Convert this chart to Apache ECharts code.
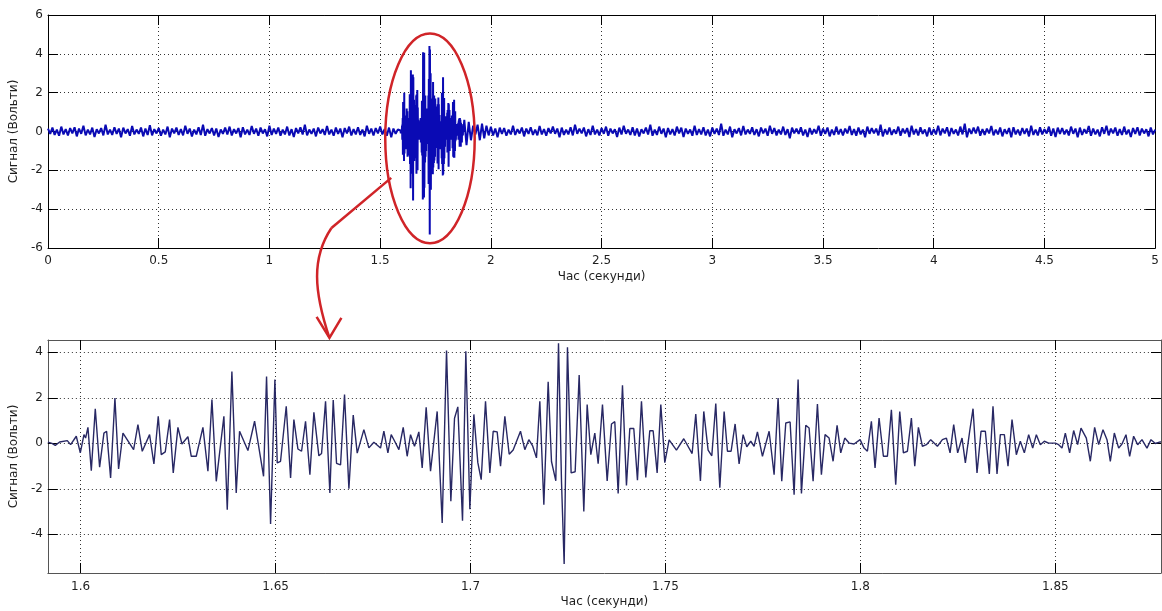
<!DOCTYPE html>
<html><head><meta charset="utf-8">
<script src="https://cdn.jsdelivr.net/npm/echarts@6/dist/echarts.min.js"></script>
<style>html,body{margin:0;padding:0;background:#fff;overflow:hidden}#c{width:1162px;height:611px;}</style>
</head><body><div id="c"></div>
<script>
// ---------- data ----------
const xTitle = 'Час (секунди)';
const yTitle = 'Сигнал (Вольти)';

const noiseStep = 0.01;
const noiseBeforeStart = 0;
const noiseBefore = [
0.15,-0.12,0.2,-0.18,0.1,-0.22,0.25,-0.15,0.12,-0.2,0.18,-0.1,0.22,-0.25,0.15,-0.12,0.3,-0.2,0.1,-0.15,
0.2,-0.28,0.12,-0.1,0.18,-0.2,0.35,-0.15,0.1,-0.18,0.22,-0.12,0.15,-0.3,0.2,-0.1,0.12,-0.22,0.28,-0.15,
0.1,-0.12,0.2,-0.25,0.15,-0.18,0.32,-0.2,0.12,-0.1,0.18,-0.22,0.1,-0.15,0.25,-0.3,0.15,-0.1,0.2,-0.18,
0.12,-0.2,0.3,-0.12,0.15,-0.25,0.1,-0.15,0.22,-0.18,0.35,-0.22,0.12,-0.1,0.18,-0.2,0.15,-0.28,0.1,-0.12,
0.2,-0.15,0.25,-0.2,0.12,-0.1,0.18,-0.3,0.22,-0.15,0.1,-0.18,0.28,-0.12,0.15,-0.22,0.2,-0.1,0.12,-0.25,
0.3,-0.18,0.15,-0.12,0.2,-0.22,0.1,-0.15,0.25,-0.2,0.12,-0.28,0.18,-0.1,0.22,-0.15,0.35,-0.2,0.1,-0.12,
0.15,-0.25,0.2,-0.1,0.12,-0.18,0.28,-0.15,0.1,-0.22,0.2,-0.12,0.15,-0.3,0.18,-0.1,0.25,-0.2,0.12,-0.15,
0.22,-0.18,0.1,-0.25,0.3,-0.12,0.15,-0.2,0.18,-0.1,0.25,-0.15,0.12,-0.22,0.2,-0.3,0.15,-0.12,0.1
];
const noiseAfterStart = 1.88;
const noiseAfter = [
0.6,-0.7,0.5,-0.45,0.3,-0.15,0.35,-0.45,0.4,-0.35,0.3,-0.2,
0.25,-0.2,0.15,-0.3,0.2,-0.12,0.18,-0.22,0.1,-0.15,0.3,-0.18,0.12,-0.1,0.2,-0.25,0.15,-0.12,0.22,-0.18,
0.1,-0.2,0.28,-0.15,0.12,-0.22,0.18,-0.1,0.25,-0.12,0.15,-0.3,0.2,-0.18,0.1,-0.15,0.22,-0.2,0.35,-0.12,
0.15,-0.1,0.2,-0.25,0.12,-0.18,0.3,-0.15,0.1,-0.2,0.18,-0.12,0.25,-0.22,0.15,-0.1,0.12,-0.28,0.2,-0.15,
0.3,-0.12,0.1,-0.18,0.22,-0.2,0.15,-0.25,0.12,-0.1,0.2,-0.15,0.35,-0.22,0.1,-0.18,0.25,-0.12,0.15,-0.3,
0.18,-0.15,0.12,-0.2,0.25,-0.1,0.2,-0.28,0.15,-0.12,0.1,-0.22,0.3,-0.18,0.12,-0.15,0.22,-0.2,0.1,-0.25,
0.2,-0.12,0.15,-0.18,0.4,-0.22,0.1,-0.15,0.25,-0.3,0.12,-0.1,0.18,-0.2,0.28,-0.15,0.1,-0.12,0.22,-0.18,
0.12,-0.25,0.2,-0.1,0.15,-0.22,0.3,-0.12,0.18,-0.2,0.1,-0.15,0.25,-0.18,0.12,-0.35,0.2,-0.1,0.15,-0.12,
0.22,-0.2,0.1,-0.28,0.18,-0.15,0.12,-0.1,0.3,-0.22,0.15,-0.12,0.2,-0.25,0.1,-0.18,0.25,-0.15,0.12,-0.2,
0.15,-0.1,0.28,-0.18,0.12,-0.22,0.2,-0.15,0.1,-0.3,0.25,-0.12,0.18,-0.1,0.15,-0.2,0.35,-0.25,0.12,-0.15,
0.2,-0.18,0.1,-0.12,0.25,-0.22,0.15,-0.1,0.18,-0.28,0.3,-0.15,0.12,-0.2,0.22,-0.12,0.1,-0.25,0.2,-0.18,
0.12,-0.15,0.3,-0.2,0.15,-0.1,0.22,-0.25,0.18,-0.12,0.1,-0.2,0.25,-0.15,0.4,-0.3,0.15,-0.12,0.2,-0.1,
0.25,-0.22,0.12,-0.18,0.15,-0.1,0.28,-0.2,0.1,-0.15,0.2,-0.25,0.12,-0.12,0.18,-0.3,0.22,-0.15,0.1,-0.2,
0.18,-0.12,0.15,-0.25,0.3,-0.18,0.1,-0.2,0.22,-0.15,0.12,-0.1,0.25,-0.22,0.15,-0.28,0.2,-0.12,0.18,-0.15,
0.1,-0.2,0.25,-0.12,0.15,-0.3,0.2,-0.18,0.12,-0.1,0.28,-0.22,0.15,-0.15,0.1,-0.25,0.22,-0.12,0.3,-0.2,
0.15,-0.1,0.2,-0.22,0.12,-0.18,0.25,-0.15,0.1,-0.28,0.18,-0.12,0.22,-0.2,0.15,-0.1,0.12,-0.25,0.2,-0.15,
0.1
];

const zoomTime = [
1.5916,1.59265,1.5935,1.59462,1.59658,1.59744,1.59889,1.59992,1.60086,1.60128,
1.60188,1.60274,1.60376,1.60487,1.60598,1.60667,1.60769,1.6088,1.60974,1.61086,
1.61359,1.6147,1.61581,1.61769,1.6188,1.61991,1.62068,1.62171,1.62282,1.62376,
1.62496,1.62599,1.62752,1.62838,1.62966,1.63137,1.6318,1.63265,1.63368,1.63479,
1.63675,1.63761,1.6388,1.63991,1.64077,1.64291,1.64462,1.64692,1.64769,1.64872,
1.64983,1.65043,1.65128,1.65274,1.65385,1.6547,1.65573,1.65667,1.65769,1.65881,
1.65983,1.66111,1.6618,1.66282,1.66393,1.66479,1.66564,1.66667,1.66769,1.66881,
1.66992,1.67094,1.67265,1.67393,1.67522,1.67692,1.67778,1.67881,1.67966,1.68052,
1.68163,1.68274,1.68376,1.68462,1.68564,1.68675,1.68761,1.68863,1.68975,1.69145,
1.69274,1.69385,1.69496,1.6959,1.69675,1.69795,1.6988,1.69983,1.70086,1.70188,
1.70274,1.70385,1.70496,1.70582,1.70684,1.7077,1.70881,1.70992,1.71094,1.71282,
1.71393,1.71496,1.7159,1.71692,1.71778,1.71881,1.71992,1.72077,1.72188,1.72257,
1.72334,1.72402,1.72487,1.72581,1.72684,1.72787,1.72906,1.72992,1.73086,1.73188,
1.73274,1.73385,1.73505,1.73616,1.73701,1.73787,1.73898,1.74,1.74086,1.74188,
1.74282,1.74385,1.74496,1.74598,1.74684,1.74787,1.74881,1.74983,1.75094,1.75282,
1.7547,1.75684,1.75778,1.75897,1.75983,1.76094,1.76189,1.76291,1.76394,1.76505,
1.7659,1.76684,1.76787,1.76889,1.76992,1.77086,1.77188,1.77274,1.77359,1.77488,
1.77659,1.77787,1.77889,1.77983,1.78086,1.78197,1.783,1.78402,1.78488,1.78599,
1.78684,1.78787,1.78898,1.79,1.79094,1.79197,1.793,1.79402,1.79496,1.79599,
1.7971,1.79838,1.79992,1.80094,1.8018,1.80282,1.80376,1.80479,1.8059,1.80693,
1.80795,1.80906,1.81009,1.81103,1.81206,1.81308,1.81394,1.81488,1.8159,1.81693,
1.81804,1.81975,1.82103,1.82206,1.823,1.82393,1.82495,1.82607,1.82692,1.82803,
1.82889,1.82991,1.83094,1.83205,1.83307,1.83401,1.83504,1.83589,1.83692,1.83786,
1.83889,1.84,1.84102,1.84205,1.84316,1.84419,1.84513,1.84615,1.84718,1.84829,
1.85,1.85085,1.85171,1.85256,1.85367,1.8547,1.85572,1.85658,1.85795,1.85897,
1.86008,1.86111,1.86222,1.86325,1.8641,1.86513,1.86624,1.86709,1.86812,1.86906,
1.87008,1.87111,1.87222,1.8735,1.87453,1.87564,1.87692,1.8771
];
const zoomSignal = [
0.05,0.0,-0.09,0.06,0.12,-0.06,0.31,-0.42,0.38,0.23,
0.70,-1.20,1.52,-1.05,0.45,0.53,-1.52,1.99,-1.13,0.45,
-0.28,0.82,-0.35,0.38,-0.91,1.19,-0.50,-0.38,1.04,-1.30,
0.70,-0.03,0.29,-0.57,-0.57,0.70,0.75,-1.23,1.92,-1.67,
1.19,-2.92,3.16,-2.18,0.53,-0.32,0.97,-1.45,2.94,-3.55,
2.80,-0.86,-0.79,1.63,-1.52,1.04,-0.25,-0.35,0.97,-1.38,
1.36,-0.55,-0.45,1.85,-2.18,1.90,-0.88,-0.95,2.14,-2.00,
1.24,-0.43,0.60,-0.20,0.05,-0.21,0.53,-0.42,0.38,0.10,
-0.28,0.70,-0.57,0.38,-0.13,0.50,-1.08,1.58,-1.23,1.40,
-3.50,4.08,-2.55,1.10,1.60,-3.40,4.05,-2.90,1.27,-0.85,
-1.60,1.85,-1.30,0.53,0.50,-1.01,1.19,-0.48,-0.29,0.53,
-0.28,0.16,-0.10,-0.64,1.85,-2.70,2.70,-0.80,-1.65,4.40,
-1.70,-5.30,4.22,-1.30,-1.25,3.00,-3.00,1.70,-0.50,0.45,
-0.90,1.70,-1.65,0.85,0.95,-2.20,2.55,-1.85,0.65,0.65,
-1.62,1.85,-1.50,0.55,0.55,-1.30,1.70,-0.85,0.15,-0.30,
0.20,-0.45,1.29,-1.65,1.40,-0.30,-0.55,1.75,-1.95,1.40,
-0.35,-0.35,0.85,-0.91,0.38,-0.15,0.09,-0.13,0.50,-0.57,
0.53,-1.38,1.99,-1.67,0.89,0.94,-2.26,2.80,-2.20,0.79,
0.67,-1.67,1.73,-1.38,0.38,0.23,-0.79,0.79,-0.42,0.23,
0.01,-0.03,0.16,-0.21,-0.35,0.97,-1.08,1.11,-0.57,-0.57,
1.47,-1.82,1.40,-0.42,-0.35,1.11,-1.01,0.70,-0.13,-0.06,
0.16,-0.13,0.16,0.23,-0.42,0.82,-0.42,0.23,-0.86,0.53,
1.52,-1.30,0.53,0.53,-1.35,1.63,-1.35,0.38,0.38,-1.01,
1.04,-0.50,0.09,-0.42,0.38,-0.21,0.38,-0.06,0.09,0.01,
0.01,-0.06,-0.21,0.45,-0.42,0.56,-0.06,0.67,0.23,-0.79,
0.70,-0.06,0.60,0.16,-0.79,0.45,-0.21,-0.03,0.38,-0.57,
0.31,-0.06,0.16,-0.21,0.16,-0.01,0.06,0.05
];

const topXRange = [0, 5];
const topYRange = [-6, 6];
const zoomXRange = [1.5916, 1.8771];
const zoomYRange = [-5.7, 4.54];
const zoomXTicks = [1.6, 1.65, 1.7, 1.75, 1.8, 1.85];
const zoomYTicks = [-4, -2, 0, 2, 4];

// ---------- build ----------
const topData = []
  .concat(noiseBefore.map((v, i) => [+(noiseBeforeStart + i * noiseStep).toFixed(4), v]))
  .concat(zoomTime.map((t, i) => [t, zoomSignal[i]]))
  .concat(noiseAfter.map((v, i) => [+(noiseAfterStart + i * noiseStep).toFixed(4), v]));
const zoomData = zoomTime.map((t, i) => [t, zoomSignal[i]]);

const FONT = "'DejaVu Sans', 'Liberation Sans', Arial, sans-serif";
const lbl = (size, extra) => Object.assign({color: '#1e1e1e', fontFamily: FONT, fontSize: size}, extra || {});
const gridLine = {show: true, lineStyle: {color: '#333', width: 1, type: [1, 3]}};

function mainX(gi, range, extra, frame) {
  return Object.assign({
    type: 'value', gridIndex: gi, position: 'bottom', min: range[0], max: range[1],
    axisLine: {show: true, onZero: false, lineStyle: {color: frame, width: 1}},
    axisTick: {show: true, inside: true, length: 10, lineStyle: {color: frame}},
    splitLine: gridLine,
    nameLocation: 'middle', name: xTitle,
    nameTextStyle: lbl(12)
  }, extra);
}
function mainY(gi, range, extra, frame) {
  return Object.assign({
    type: 'value', gridIndex: gi, position: 'left', min: range[0], max: range[1],
    axisLine: {show: true, onZero: false, lineStyle: {color: frame, width: 1}},
    axisTick: {show: true, inside: true, length: 10, lineStyle: {color: frame}},
    splitLine: gridLine,
    nameLocation: 'middle', name: yTitle, nameGap: 26,
    nameTextStyle: lbl(12)
  }, extra);
}
function twinX(gi, range, extra, frame) {
  return Object.assign({
    type: 'value', gridIndex: gi, position: 'top', min: range[0], max: range[1],
    axisLine: {show: true, onZero: false, lineStyle: {color: frame, width: 1}},
    axisTick: {show: true, inside: true, length: 10, lineStyle: {color: frame}},
    axisLabel: {show: false}, splitLine: {show: false}
  }, extra);
}
function twinY(gi, range, extra, frame) {
  return Object.assign({
    type: 'value', gridIndex: gi, position: 'right', min: range[0], max: range[1],
    axisLine: {show: true, onZero: false, lineStyle: {color: frame, width: 1}},
    axisTick: {show: true, inside: true, length: 10, lineStyle: {color: frame}},
    axisLabel: {show: false}, splitLine: {show: false}
  }, extra);
}

const chart = echarts.init(document.getElementById('c'), null, {renderer: 'canvas'});
const option = {
  animation: false,
  backgroundColor: '#ffffff',
  grid: [
    {left: 48, top: 15, width: 1113, height: 233, containLabel: false},
    {left: 47, top: 340, width: 1114, height: 233, containLabel: false}
  ],
  xAxis: [
    mainX(0, topXRange, {interval: 0.5, nameGap: 23,
      axisLabel: lbl(12, {margin: 7, showMinLabel: true, showMaxLabel: true})}, '#000'),
    twinX(0, topXRange, {interval: 0.5}, '#000'),
    mainX(1, zoomXRange, {nameGap: 23,
      axisLabel: lbl(12, {margin: 8, customValues: zoomXTicks}),
      axisTick: {show: true, inside: true, length: 10, customValues: zoomXTicks, lineStyle: {color: '#000'}},
      axisLine: {show: true, onZero: false, lineStyle: {color: '#555', width: 1}}}, '#555'),
    twinX(1, zoomXRange, {axisTick: {show: true, inside: true, length: 10, customValues: zoomXTicks, lineStyle: {color: '#000'}}}, '#555')
  ],
  yAxis: [
    mainY(0, topYRange, {interval: 2, axisLabel: lbl(12, {margin: 5})}, '#000'),
    twinY(0, topYRange, {interval: 2}, '#000'),
    mainY(1, zoomYRange, {
      axisLabel: lbl(12, {margin: 5, customValues: zoomYTicks}),
      axisTick: {show: true, inside: true, length: 10, customValues: zoomYTicks, lineStyle: {color: '#000'}}}, '#555'),
    twinY(1, zoomYRange, {axisTick: {show: true, inside: true, length: 10, customValues: zoomYTicks, lineStyle: {color: '#000'}}}, '#555')
  ],
  series: [
    {type: 'line', xAxisIndex: 0, yAxisIndex: 0, data: topData, showSymbol: false, symbol: 'none',
     clip: true, lineStyle: {color: '#0a0ab4', width: 2}, z: 3},
    {type: 'line', xAxisIndex: 2, yAxisIndex: 2, data: zoomData, showSymbol: false, symbol: 'none',
     clip: true, lineStyle: {color: '#282864', width: 1.4}, z: 3}
  ]
};
chart.setOption(option);

// ---------- annotation (red ellipse and arrow) positioned in top-grid data coordinates ----------
const ellipseCenter = [1.725, -0.35];
const ellipseHalf = [0.202, 5.4];
const arrowPath = [[1.55, -2.39], [1.28, -4.97], [1.19, -6.5], [1.20, -8.2], [1.271, -10.63]];
const arrowWings = [[1.213, -9.55], [1.325, -9.6]];

const P = p => chart.convertToPixel({xAxisIndex: 0, yAxisIndex: 0}, p);
const c0 = P(ellipseCenter);
const cx1 = P([ellipseCenter[0] + ellipseHalf[0], ellipseCenter[1] + ellipseHalf[1]]);
const a = arrowPath.map(P);
const w = arrowWings.map(P);
const red = '#d02428';
chart.setOption({
  graphic: [
    {type: 'ellipse', z: 100, shape: {cx: c0[0], cy: c0[1], rx: Math.abs(cx1[0] - c0[0]), ry: Math.abs(c0[1] - cx1[1])},
     style: {fill: null, stroke: red, lineWidth: 2.5}},
    {type: 'polyline', z: 100, shape: {points: [a[0], a[1]]}, style: {fill: null, stroke: red, lineWidth: 2.5}},
    {type: 'bezierCurve', z: 100, shape: {x1: a[1][0], y1: a[1][1], cpx1: a[2][0], cpy1: a[2][1], cpx2: a[3][0], cpy2: a[3][1], x2: a[4][0], y2: a[4][1]},
     style: {fill: null, stroke: red, lineWidth: 2.5}},
    {type: 'polyline', z: 100, shape: {points: [w[0], a[4], w[1]]}, style: {fill: null, stroke: red, lineWidth: 2.5}}
  ]
});
</script>
</body></html>
